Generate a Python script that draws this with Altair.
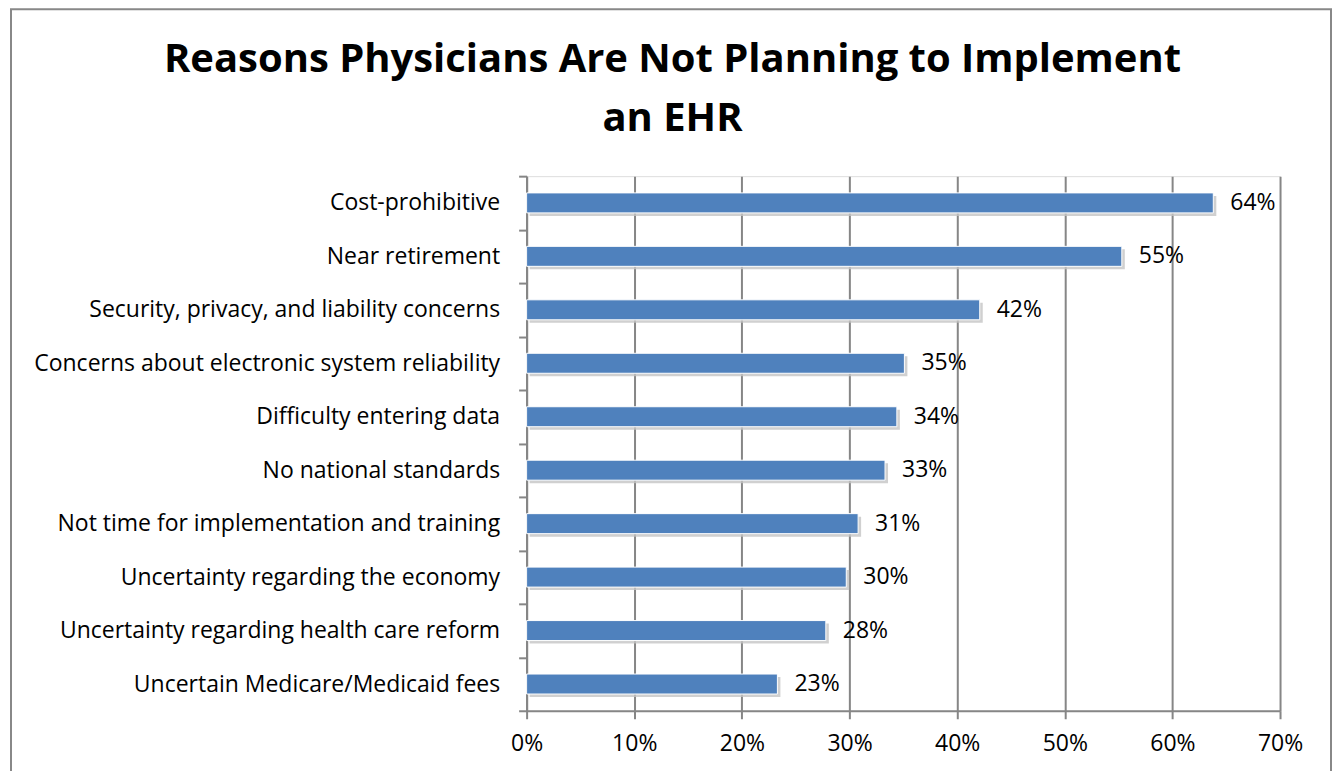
import altair as alt
import pandas as pd

title_lines = ["Reasons Physicians Are Not Planning to Implement", "an EHR"]
categories = [
    "Cost-prohibitive",
    "Near retirement",
    "Security, privacy, and liability concerns",
    "Concerns about electronic system reliability",
    "Difficulty entering data",
    "No national standards",
    "Not time for implementation and training",
    "Uncertainty regarding the economy",
    "Uncertainty regarding health care reform",
    "Uncertain Medicare/Medicaid fees",
]
values = [0.638, 0.553, 0.421, 0.351, 0.344, 0.333, 0.308, 0.297, 0.278, 0.233]
x_ticks = [0, 0.1, 0.2, 0.3, 0.4, 0.5, 0.6, 0.7]

df = pd.DataFrame({"reason": categories, "value": values})

FONT = "Open Sans"
W, H = 754, 535
FS = 23

y_enc = alt.Y(
    "reason:N",
    sort=categories,
    title=None,
    scale=alt.Scale(paddingInner=0, paddingOuter=0),
    axis=alt.Axis(
        tickBand="extent",
        tickSize=8,
        tickColor="#868686",
        tickWidth=2,
        domainColor="#868686",
        domainWidth=2,
        labelFontSize=FS,
        labelFont=FONT,
        labelColor="black",
        labelPadding=19,
        labelLimit=600,
        grid=False,
    ),
)
x_enc = alt.X(
    "value:Q",
    title=None,
    scale=alt.Scale(domain=[0, 0.7], nice=False),
    axis=alt.Axis(
        values=x_ticks,
        format=".0%",
        tickSize=8,
        tickColor="#868686",
        tickWidth=2,
        domainColor="#868686",
        domainWidth=2,
        gridColor="#868686",
        gridWidth=2,
        labelFontSize=FS,
        labelFont=FONT,
        labelColor="black",
        labelPadding=14,
        labelFlush=False,
    ),
)

base = alt.Chart(df)

shadow = base.mark_bar(size=20, color="#c4c4c4", opacity=0.8, xOffset=3, yOffset=3).encode(
    x=alt.X("value:Q", scale=alt.Scale(domain=[0, 0.7], nice=False)),
    y=alt.Y("reason:N", sort=categories),
)

bars = base.mark_bar(size=20, color="#4F81BD", stroke="white", strokeWidth=1).encode(
    x=x_enc, y=y_enc
)

labels = base.mark_text(
    align="left", baseline="middle", dx=17, fontSize=FS, font=FONT, color="black"
).encode(
    x="value:Q",
    y=alt.Y("reason:N", sort=categories),
    text=alt.Text("value:Q", format=".0%"),
)

border = alt.Chart(pd.DataFrame({"a": [0]})).mark_rect(
    fill=None, stroke="#888888", strokeWidth=2
).encode(
    x=alt.value(11 - 527),
    x2=alt.value(1332 - 527),
    y=alt.value(9 - 176),
    y2=alt.value(800 - 176),
)

title_df = pd.DataFrame({"line": title_lines, "idx": [0, 1]})
title1 = alt.Chart(title_df[title_df.idx == 0]).mark_text(
    font=FONT, fontSize=40, fontWeight="bold", color="black", align="center", baseline="alphabetic"
).encode(text="line:N", x=alt.value(673 - 527), y=alt.value(72 - 176))
title2 = alt.Chart(title_df[title_df.idx == 1]).mark_text(
    font=FONT, fontSize=40, fontWeight="bold", color="black", align="center", baseline="alphabetic"
).encode(text="line:N", x=alt.value(673 - 527), y=alt.value(131 - 176))

chart = (
    alt.layer(border, title1, title2, shadow, bars, labels)
    .properties(
        width=W,
        height=H,
        autosize=alt.AutoSizeParams(type="none"),
        padding={"left": 519, "top": 168, "right": 52, "bottom": 60},
    )
    .configure_view(stroke=None)
    .configure(background="white")
)

chart.save("out.html", embed_options={"renderer": "svg", "actions": False})
